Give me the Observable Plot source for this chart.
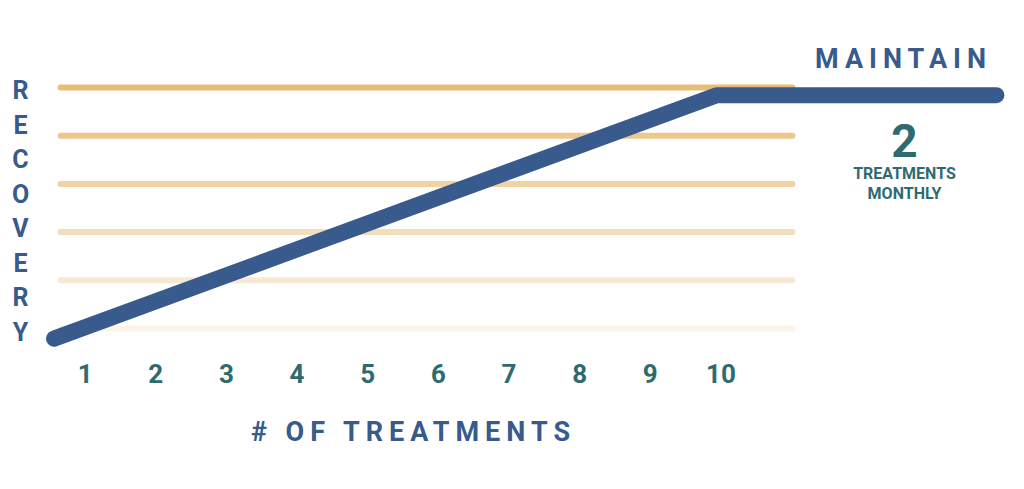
<!DOCTYPE html>
<html>
<head>
<meta charset="utf-8">
<script src="https://cdn.jsdelivr.net/npm/d3@7"></script>
<script src="https://cdn.jsdelivr.net/npm/@observablehq/plot@0.6"></script>
<style>
  html, body { margin: 0; padding: 0; background: #fff; }
  #chart svg { display: block; }
</style>
</head>
<body>
<div id="chart"></div>
<script>
// ---- data ----
const treatmentTicks = [1, 2, 3, 4, 5, 6, 7, 8, 9, 10];
const gridLevels = [0, 1, 2, 3, 4, 5];
const gridSpan = [0.66, 11.02];            // treatments range covered by grid lines
const pathTreatments = [0.56, 9.94, 13.9]; // x of recovery path
const pathRecovery = [-0.21, 4.84, 4.84];  // recovery level
const yTitle = "RECOVERY";
const xTitle = "# OF TREATMENTS";
const maintainLabel = "MAINTAIN";
const maintainCount = "2";
const maintainNote = "TREATMENTS\nMONTHLY";

const path = pathTreatments.map((x, i) => ({x, y: pathRecovery[i]}));

const BLUE = "#385a8c";
const TEAL = "#2e6b70";

const chart = Plot.plot({
  width: 1024,
  height: 489,
  marginTop: 87,
  marginBottom: 161,
  marginLeft: 14,
  marginRight: 21,
  style: {fontFamily: "Roboto, 'DejaVu Sans', sans-serif", background: "#fff", overflow: "visible"},
  x: {domain: [0, 14], axis: null},
  y: {domain: [0, 5], axis: null},
  color: {type: "linear", domain: [0, 5], range: ["#fbf4ea", "#e8bd77"], interpolate: "rgb"},
  marks: [
    Plot.ruleY(gridLevels, {
      y: d => d, x1: gridSpan[0], x2: gridSpan[1],
      stroke: d => d, strokeWidth: 6, strokeLinecap: "round"
    }),
    Plot.line(path, {x: "x", y: "y", stroke: BLUE, strokeWidth: 16, strokeLinecap: "round", strokeLinejoin: "miter"}),
    Plot.axisX(treatmentTicks, {
      tickSize: 0, tickPadding: 36, fontSize: 26, fontWeight: "bold", color: TEAL, label: null
    }),
    Plot.text([xTitle], {
      frameAnchor: "bottom-left", dx: 396, dy: 112, text: d => d,
      fontSize: 27, fontWeight: "bold", fill: BLUE, textAnchor: "middle"
    }),
    Plot.text([yTitle.split("").join("\n")], {
      frameAnchor: "left", dx: 6, dy: 1, text: d => d, lineHeight: 1.38,
      fontSize: 25, fontWeight: "bold", fill: BLUE, textAnchor: "middle"
    }),
    Plot.text([maintainLabel], {
      frameAnchor: "top-right", dx: -103, dy: -39, text: d => d,
      fontSize: 27, fontWeight: "bold", fill: BLUE, textAnchor: "middle"
    }),
    Plot.text([maintainCount], {
      frameAnchor: "top-right", dx: -99, dy: 37, text: d => d,
      fontSize: 46, fontWeight: "bold", fill: TEAL, textAnchor: "middle"
    }),
    Plot.text([maintainNote], {
      frameAnchor: "top-right", dx: -99, dy: 77, text: d => d, lineHeight: 1.25,
      fontSize: 16, fontWeight: "bold", fill: TEAL, textAnchor: "middle"
    })
  ]
});
// wide letter spacing on the two spaced-out titles
d3.select(chart).selectAll("text").each(function() {
  const t = this.textContent;
  if (t === xTitle) d3.select(this).attr("letter-spacing", 6).attr("dx", 3);
  if (t === maintainLabel) d3.select(this).attr("letter-spacing", 6).attr("dx", 3);
});
document.getElementById("chart").append(chart);
</script>
</body>
</html>
